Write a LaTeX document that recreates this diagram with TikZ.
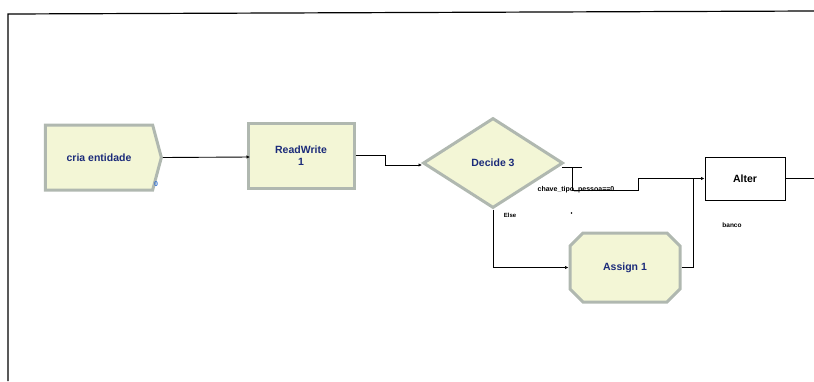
\documentclass[tikz,border=0pt]{standalone}
\usepackage{fontspec}
\setmainfont{Liberation Sans}
\usetikzlibrary{arrows.meta,shapes.geometric,shapes.symbols,shapes.misc}
\definecolor{modfill}{HTML}{F3F6D6}
\definecolor{modedge}{HTML}{B0B8B0}
\definecolor{modtext}{HTML}{1B2B7A}
\definecolor{idblue}{HTML}{2F6FD0}
\tikzset{
  module/.style={draw=modedge, fill=modfill, line width=3pt, text=modtext,
    font=\fontsize{10.5}{12.5}\selectfont\bfseries, align=center, inner sep=0pt},
  conn/.style={draw=black, line width=0.9pt},
  tip/.style={-{Latex[length=3.5pt,width=3.5pt]}},
  tiny/.style={font=\fontsize{6.5}{7}\selectfont\bfseries, inner sep=0pt},
}
\begin{document}
\begin{tikzpicture}[x=1pt,y=-1pt]
\useasboundingbox (0,0) rectangle (814,381);
% frame
\draw[line width=1.2pt] (8,381) -- (8,14) -- (814,11);

% modules
\node[module, signal, signal to=east, signal pointer angle=150,
      minimum width=116pt, minimum height=65pt] (create) at (99,157.5) {cria entidade};
\node[module, rectangle, minimum width=106pt, minimum height=65pt] (rw) at (301,155.5) {ReadWrite\\1};
\node[module, diamond, aspect=1.55, minimum width=140pt, minimum height=90pt] (dec) at (493,163) {Decide 3};
\node[module, chamfered rectangle, chamfered rectangle xsep=8pt, chamfered rectangle ysep=8pt,
      minimum width=110pt, minimum height=69pt] (assign) at (625,267.5) {Assign 1};
\node[draw=black, fill=white, line width=1pt, minimum width=80pt, minimum height=43pt,
      font=\fontsize{10.5}{12.5}\selectfont\bfseries, inner sep=0pt] (alter) at (745,178.5) {Alter};

% labels
\node[font=\fontsize{7}{8}\selectfont\bfseries, text=idblue, inner sep=0pt] (cid) at (156,184) {0};
\node[tiny, font=\fontsize{7}{8}\selectfont\bfseries] (truelbl) at (576,190) {chave\_tipo\_pessoa==0};
\node[tiny, font=\fontsize{6}{7}\selectfont\bfseries] (elselbl) at (510,215.5) {Else};
\node[tiny] (bancolbl) at (732,225) {banco};
\fill (571.5,213) circle (0.9pt);

% connectors
\draw[conn, tip] (create.east) -- (250,157);
\draw[conn, tip] (rw.east) -- (385,155.5) -- (385,165) -- (422,165);
\draw[conn] (562,167) -- (582,167);
\coordinate (t1) at (572,167);
\coordinate (t2) at (638,190);
\draw[conn, tip] (t1) -- (572,190) -- (t2) -- (638,178.5) -- (alter.west);
\draw[conn] (alter.east) -- (814,178.5);
\draw[conn, tip] (dec.south) -- (493,267.5) -- (assign.west);
\draw[conn] (assign.east) -- (693,267.5) -- (693,178.5);
\end{tikzpicture}
\end{document}
